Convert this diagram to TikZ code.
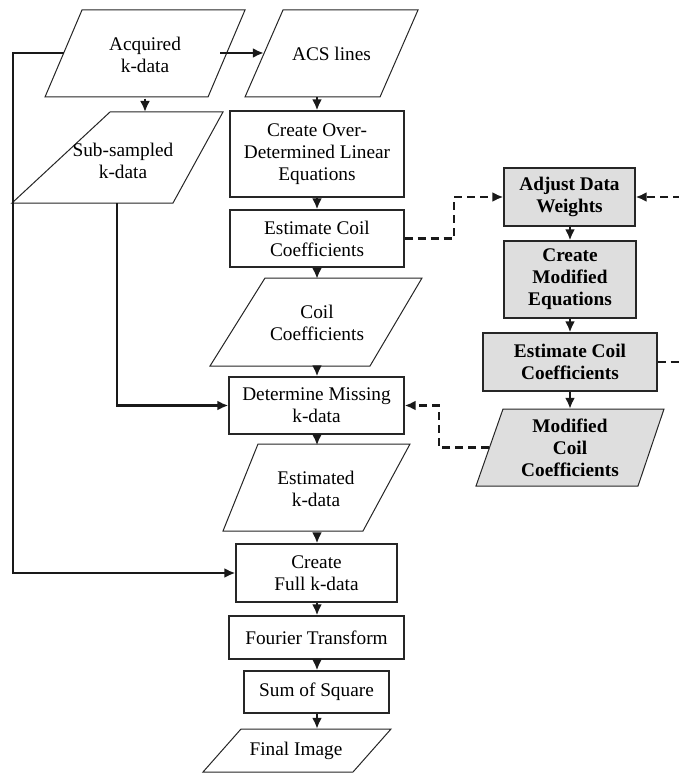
\documentclass[tikz,border=0pt]{standalone}
\usepackage{fontspec}
\setmainfont{Liberation Serif}
\usetikzlibrary{arrows.meta,calc}
\begin{document}
\begin{tikzpicture}[x=1pt,y=-1pt,
  every node/.style={font=\fontsize{19.3}{22}\selectfont, align=center, inner sep=0pt},
  boxw/.style={draw=black!85, line width=1.3pt, fill=white},
  boxg/.style={draw=black!85, line width=1.3pt, fill=black!13, font=\fontsize{19.3}{22}\selectfont\bfseries},
  para/.style={draw=black!85, line width=1pt, fill=white},
  parag/.style={draw=black!85, line width=1pt, fill=black!13},
  arr/.style={draw=black!90, line width=2.2pt, -{Latex[length=11pt,width=10pt]}},
  dasharr/.style={draw=black!90, line width=2.2pt, dash pattern=on 8pt off 5pt, -{Latex[length=11pt,width=10pt]}},
  dashline/.style={draw=black!90, line width=2.2pt, dash pattern=on 8pt off 5pt},
]
\useasboundingbox (0,0) rectangle (679,773);

% ---- parallelogram outlines ----
\draw[para] (82,10) -- (245,10) -- (208,97) -- (45,97) -- cycle;      % Acquired
\draw[para] (283,10) -- (418,10) -- (380,97) -- (245,97) -- cycle;    % ACS
\draw[para] (110,112) -- (223,112) -- (173,203) -- (12,203) -- cycle; % Sub-sampled
\draw[para] (265,278) -- (422,278) -- (370,366) -- (210,366) -- cycle;% Coil
\draw[para] (258,444) -- (410,444) -- (363,531) -- (223,531) -- cycle;% Estimated
\draw[para] (241,729) -- (391,729) -- (353,772) -- (203,772) -- cycle;% Final
\draw[parag] (503,409) -- (664,409) -- (638,486) -- (476,486) -- cycle;% Modified coil

% ---- parallelogram text nodes ----
\node[minimum width=163pt, minimum height=87pt] (acq) at (145,55) {Acquired\\k-data};
\node[minimum width=135pt, minimum height=87pt] (acs) at (331.5,53.5) {ACS lines};
\node[minimum width=100pt, minimum height=82pt] (sub) at (123,161) {Sub-sampled\\k-data};
\node[minimum width=158pt, minimum height=88pt] (coil) at (317,323) {Coil\\Coefficients};
\node[minimum width=146pt, minimum height=87pt] (estd) at (316,489) {Estimated\\k-data};
\node[minimum width=150pt, minimum height=43pt] (final) at (296,750.5) {Final Image};
\node[minimum width=161.5pt, minimum height=77pt, font=\fontsize{19.3}{22}\selectfont\bfseries] (modc) at (570,447.5) {Modified\\Coil\\Coefficients};

% ---- rectangles ----
\node[boxw, minimum width=174pt, minimum height=86pt] (over) at (317,154) {Create Over-\\Determined Linear\\Equations};
\node[boxw, minimum width=174pt, minimum height=57pt] (est) at (317,238.5) {Estimate Coil\\Coefficients};
\node[boxw, minimum width=175pt, minimum height=57pt] (det) at (316.5,405.5) {Determine Missing\\k-data};
\node[boxw, minimum width=161pt, minimum height=58pt] (full) at (316.5,573) {Create\\Full k-data};
\node[boxw, minimum width=175pt, minimum height=43pt] (four) at (316.5,637.5) {Fourier Transform};
\node[boxw, minimum width=145pt, minimum height=42pt] (sum) at (316.5,692) {Sum of Square};
\node[boxg, minimum width=131pt, minimum height=58pt] (adj) at (569.5,197) {Adjust Data\\Weights};
\node[boxg, minimum width=132pt, minimum height=77pt] (mod) at (570,279.5) {Create\\Modified\\Equations};
\node[boxg, minimum width=174pt, minimum height=58pt] (est2) at (570,362) {Estimate Coil\\Coefficients};

\coordinate (col) at (317,0);
\coordinate (r1) at (681,197);
\coordinate (r2) at (681,362);
\coordinate (acqL) at (63.5,53);
\coordinate (acqR) at (220,53);
\coordinate (subB) at (117,203);

% ---- solid connectors ----
\draw[arr] (acqR) -- (acs.west |- acqR);
\draw[arr] (acq.south) -- (acq.south |- 0,112);
\draw[arr] (acqL) -- ++(-50.5,0) |- (full.west);
\draw[arr] (subB) |- (det.west);
\draw[arr] (acs.south -| col) -- (over.north -| col);
\draw[arr] (over.south -| col) -- (est.north -| col);
\draw[arr] (est.south -| col) -- (coil.north -| col);
\draw[arr] (coil.south -| col) -- (det.north -| col);
\draw[arr] (det.south -| col) -- (estd.north -| col);
\draw[arr] (estd.south -| col) -- (full.north -| col);
\draw[arr] (full.south -| col) -- (four.north -| col);
\draw[arr] (four.south -| col) -- (sum.north -| col);
\draw[arr] (sum.south -| col) -- (final.north -| col);
\draw[arr] (adj.south -| 570,0) -- (mod.north);
\draw[arr] (mod.south) -- (est2.north);
\draw[arr] (est2.south) -- (modc.north);

% ---- dashed connectors ----
\draw[dasharr] (est.east) -- ++(49,0) |- (adj.west);
\draw[dasharr] (r1) -- (adj.east);
\draw[dashline] (est2.east) -- (r2);
\draw[dasharr] (modc.west) -- (439,447.5) |- (det.east);
\end{tikzpicture}
\end{document}
